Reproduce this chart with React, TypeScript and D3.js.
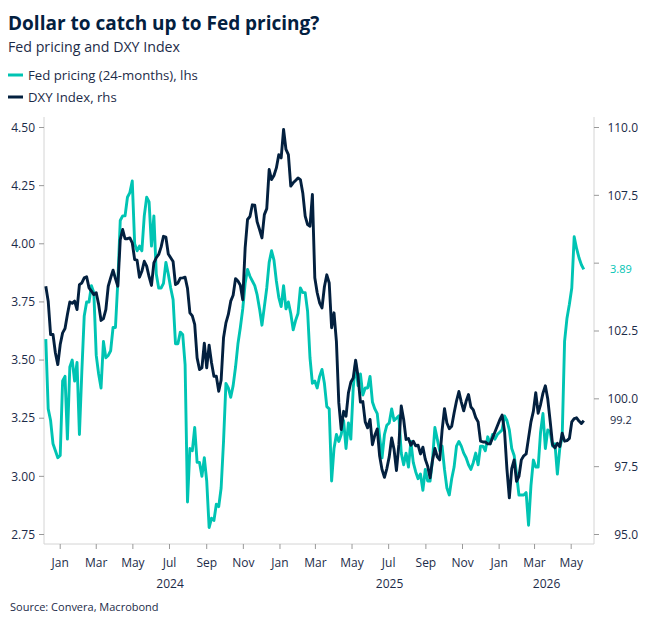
import React from 'react';
import * as d3 from 'd3';

// Series sampled every 4 days from 8 Dec 2023
const startDate = new Date(2023, 11, 8);
const stepDays = 4;

// Fed pricing (24-months), lhs
const fedPricing = [
  3.59, 3.29, 3.24, 3.14, 3.11, 3.08, 3.09, 3.41, 3.43, 3.16, 3.47, 3.50, 3.41, 3.49, 3.18,
  3.45, 3.69, 3.75, 3.75, 3.82, 3.79, 3.52, 3.44, 3.38, 3.58, 3.51, 3.52, 3.54, 3.64, 3.64,
  3.84, 4.10, 4.12, 4.12, 4.20, 4.22, 4.27, 4.00, 3.97, 3.99, 3.97, 4.12, 4.20, 4.18, 3.99,
  4.12, 3.87, 3.81, 3.81, 3.83, 3.92, 3.87, 3.81, 3.76, 3.57, 3.57, 3.62, 3.61, 3.48, 2.89,
  3.12, 3.11, 3.21, 3.06, 3.06, 3.00, 3.08, 2.98, 2.78, 2.82, 2.81, 2.88, 2.87, 2.95, 3.15,
  3.40, 3.38, 3.34, 3.39, 3.47, 3.57, 3.64, 3.72, 3.83, 3.89, 3.86, 3.84, 3.82, 3.78, 3.72,
  3.65, 3.73, 3.81, 3.92, 3.97, 3.93, 3.84, 3.77, 3.73, 3.82, 3.72, 3.75, 3.70, 3.63, 3.67,
  3.70, 3.81, 3.79, 3.79, 3.71, 3.51, 3.40, 3.41, 3.38, 3.43, 3.46, 3.40, 3.30, 3.29, 2.98,
  3.12, 3.18, 3.15, 3.18, 3.24, 3.12, 3.23, 3.16, 3.38, 3.49, 3.39, 3.44, 3.35, 3.38, 3.38,
  3.43, 3.32, 3.29, 3.27, 3.17, 3.08, 3.18, 3.22, 3.23, 3.29, 3.24, 3.25, 3.26, 3.10, 3.05,
  3.10, 3.04, 3.15, 3.06, 3.02, 2.99, 3.01, 2.94, 3.03, 2.98, 2.98, 3.07, 3.21, 3.16, 3.11,
  3.13, 3.03, 2.95, 2.92, 2.99, 3.04, 3.13, 3.15, 3.13, 3.10, 3.08, 3.05, 3.03, 3.06, 3.10,
  3.05, 3.13, 3.13, 3.11, 3.17, 3.14, 3.18, 3.16, 3.18, 3.19, 3.20, 3.26, 3.24, 3.20, 3.12,
  3.09, 3.01, 2.92, 2.92, 2.92, 2.93, 2.79, 2.96, 3.07, 3.04, 3.04, 3.19, 3.27, 3.12, 3.20,
  3.19, 3.13, 3.14, 3.01, 3.12, 3.17, 3.58, 3.68, 3.74, 3.81, 4.03, 3.98, 3.94, 3.91, 3.89,
];

// DXY Index, rhs
const dxyIndex = [
  104.15, 103.6, 102.37, 102.37, 101.69, 101.26, 102.0, 102.43, 102.59, 103.11, 103.57, 103.52, 103.6, 103.29, 104.21,
  104.27, 104.46, 104.5, 104.09, 103.97, 103.84, 103.91, 103.48, 102.89, 102.96, 103.29, 104.15, 104.46, 104.74, 104.43,
  104.15, 105.87, 106.24, 105.9, 105.9, 105.93, 105.75, 105.13, 105.11, 104.48, 104.7, 105.07, 104.89, 104.5, 104.18,
  105.01, 105.2, 105.32, 105.59, 105.99, 105.96, 105.34, 105.2, 105.06, 104.21, 104.27, 104.45, 104.46, 104.48, 104.07,
  103.17, 103.06, 102.74, 101.51, 101.08, 101.14, 102.05, 101.14, 101.98, 101.33, 100.83, 100.83, 100.28, 100.69, 102.25,
  102.8, 103.11, 103.6, 103.82, 104.43, 104.34, 104.19, 103.65, 105.56, 106.61, 106.72, 107.15, 107.14, 106.52, 106.24,
  105.93, 106.79, 107.01, 108.45, 108.08, 108.23, 108.51, 109.0, 108.88, 109.93, 109.19, 109.0, 107.84, 107.96, 108.05,
  108.14, 108.08, 107.59, 106.73, 106.42, 106.36, 107.53, 104.46, 103.91, 103.54, 103.35, 104.13, 104.57, 104.27, 102.62,
  103.17, 102.12, 99.85, 98.87, 99.54, 99.36, 100.22, 100.61, 100.77, 101.42, 100.83, 99.88, 99.9, 99.15, 98.93,
  99.24, 98.31, 98.66, 98.89, 97.89, 97.39, 97.11, 97.43, 97.87, 98.56, 98.14, 97.36, 98.31, 99.74, 99.24,
  98.5, 98.54, 98.29, 98.44, 98.27, 98.29, 97.97, 98.22, 97.77, 97.52, 97.09, 97.73, 98.17, 97.86, 97.75,
  98.84, 99.64, 99.11, 98.9, 98.99, 99.48, 99.92, 100.27, 99.88, 99.56, 99.91, 100.16, 99.7, 99.59, 99.31,
  99.15, 98.44, 98.41, 98.41, 98.34, 98.34, 98.56, 98.78, 99.0, 99.22, 99.4, 98.81, 97.41, 96.35, 97.43,
  97.75, 96.96, 97.14, 97.75, 97.9, 97.97, 98.56, 99.15, 99.54, 100.23, 99.47, 99.79, 100.21, 100.48, 99.99,
  99.18, 98.31, 98.19, 98.36, 98.24, 98.73, 98.44, 98.46, 98.54, 99.15, 99.27, 99.3, 99.18, 99.09, 99.2,
];

const leftTicks = [2.75, 3.0, 3.25, 3.5, 3.75, 4.0, 4.25, 4.5];
const rightTicks = [95, 97.5, 100, 102.5, 105, 107.5, 110];
const years = [2024, 2025, 2026];

const TEAL = '#00c4b3';
const NAVY = '#03203f';
const INK = '#1c2b48';
const AXIS = '#d4d4d4';
const FONT = '"Open Sans", "Noto Sans", sans-serif';

const W = 646;
const H = 626;
const left = 44;
const right = 594;
const top = 117;
const bottom = 544;

export default function App() {
  const x = d3
    .scaleTime()
    .domain([new Date(2023, 11, 5), new Date(2026, 5, 8)])
    .range([left, right]);
  const yL = d3.scaleLinear().domain([2.75, 4.5]).range([534.5, 127.5]);
  const yR = d3.scaleLinear().domain([95, 110]).range([534.5, 127.5]);

  const dates = fedPricing.map((_, i) => d3.timeDay.offset(startDate, i * stepDays));

  const fedLine = d3
    .line<number>()
    .x((_, i) => x(dates[i]))
    .y((d) => yL(d));
  const dxyLine = d3
    .line<number>()
    .x((_, i) => x(dates[i]))
    .y((d) => yR(d));

  const months = d3.timeMonth.every(2)!.range(new Date(2024, 0, 1), x.domain()[1]);
  const [d0, d1] = x.domain();

  const lastFed = fedPricing[fedPricing.length - 1];
  const lastDxy = dxyIndex[dxyIndex.length - 1];
  const valueLabels = [
    { y: yL(lastFed), text: lastFed.toFixed(2), color: TEAL },
    { y: yR(lastDxy), text: lastDxy.toFixed(1), color: INK },
  ];

  return (
    <svg width={W} height={H} style={{ display: 'block', margin: '-8px' }} fontFamily={FONT}>
      <rect width={W} height={H} fill="#fff" />
      <text x={8} y={30} fontSize={19} fontWeight={700} fill={NAVY}>
        Dollar to catch up to Fed pricing?
      </text>
      <text x={8} y={52} fontSize={14.2} fill={INK}>
        Fed pricing and DXY Index
      </text>

      {[
        { y: 75, color: TEAL, label: 'Fed pricing (24-months), lhs' },
        { y: 97, color: NAVY, label: 'DXY Index, rhs' },
      ].map((d) => (
        <g key={d.label}>
          <line x1={8} x2={23} y1={d.y} y2={d.y} stroke={d.color} strokeWidth={3} />
          <text x={28} y={d.y + 4.5} fontSize={13.2} fill={INK}>
            {d.label}
          </text>
        </g>
      ))}

      {/* frame */}
      <path d={`M${left},${top}V${bottom}H${right}V${top}`} fill="none" stroke={AXIS} strokeWidth={1} />

      {/* left axis */}
      {leftTicks.map((t) => (
        <g key={t} transform={`translate(0,${yL(t)})`}>
          <line x1={left - 5} x2={left} stroke="#999" />
          <text x={35} dy="0.35em" textAnchor="end" fontSize={12} fill={INK}>
            {t.toFixed(2)}
          </text>
        </g>
      ))}

      {/* right axis */}
      {rightTicks.map((t) => {
        const y = yR(t);
        const hidden = valueLabels.some((v) => Math.abs(v.y - y) < 10);
        return (
          <g key={t} transform={`translate(0,${y})`}>
            <line x1={right} x2={right + 5} stroke="#999" />
            {!hidden && (
              <text x={638} dy="0.35em" textAnchor="end" fontSize={12} fill={INK}>
                {t.toFixed(1)}
              </text>
            )}
          </g>
        );
      })}
      {valueLabels.map((v) => (
        <text key={v.text} x={610} y={v.y} dy="0.35em" fontSize={11} fill={v.color}>
          {v.text}
        </text>
      ))}

      {/* time axis */}
      {months.map((m) => (
        <g key={m.getTime()} transform={`translate(${x(m)},0)`}>
          <line y1={bottom} y2={bottom + 5} stroke="#999" />
          <text y={567} textAnchor="middle" fontSize={12} fill={INK}>
            {d3.timeFormat('%b')(m)}
          </text>
        </g>
      ))}
      {years.map((yr) => {
        const a = Math.max(+d0, +new Date(yr, 0, 1));
        const b = Math.min(+d1, +new Date(yr + 1, 0, 1));
        return (
          <text key={yr} x={(x(new Date(a)) + x(new Date(b))) / 2} y={588} textAnchor="middle" fontSize={12} fill={INK}>
            {yr}
          </text>
        );
      })}

      <path d={fedLine(fedPricing) ?? ''} fill="none" stroke={TEAL} strokeWidth={2.9} strokeLinejoin="round" />
      <path d={dxyLine(dxyIndex) ?? ''} fill="none" stroke={NAVY} strokeWidth={2.9} strokeLinejoin="round" />

      <text x={10} y={611} fontSize={11} fill={INK}>
        Source: Convera, Macrobond
      </text>
    </svg>
  );
}
